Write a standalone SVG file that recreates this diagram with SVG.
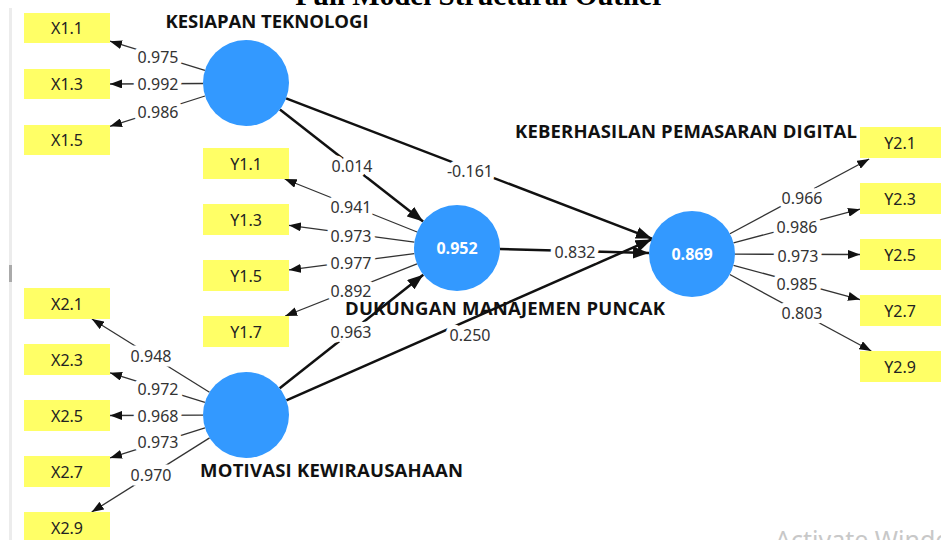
<svg xmlns="http://www.w3.org/2000/svg" width="941" height="540" viewBox="0 0 941 540">
<style>
.ind{fill:#ffff66}
.it{font-family:"Noto Sans","Open Sans",sans-serif;font-size:16px;fill:#222;text-anchor:middle;dominant-baseline:central}
.lv{fill:#3399ff}
.lvt{font-family:"Open Sans","Noto Sans",sans-serif;font-size:16px;font-weight:bold;fill:#fff;text-anchor:middle;dominant-baseline:central}
.hd{font-family:"Open Sans","Noto Sans",sans-serif;font-size:18.5px;font-weight:bold;fill:#111;text-anchor:middle}
.ol{stroke:#333;stroke-width:1.3;fill:none;marker-end:url(#ah)}
.il{stroke:#111;stroke-width:2.5;fill:none;marker-end:url(#ahb)}
.el{font-family:"Noto Sans","Open Sans",sans-serif;font-size:16px;fill:#333;text-anchor:middle;dominant-baseline:central;paint-order:stroke;stroke:#fff;stroke-width:9;stroke-linejoin:round}
</style>
<defs>
<marker id="ah" markerUnits="userSpaceOnUse" markerWidth="12" markerHeight="9" refX="12" refY="4.5" orient="auto"><path d="M0,0 L12,4.5 L0,9 z" fill="#111"/></marker>
<marker id="ahb" markerUnits="userSpaceOnUse" markerWidth="16" markerHeight="12" refX="16" refY="6" orient="auto"><path d="M0,0 L16,6 L0,12 z" fill="#111"/></marker>
</defs>
<rect width="941" height="540" fill="#fff"/>
<rect x="9" y="8" width="3" height="532" fill="#ececec"/>
<rect x="9" y="265" width="3" height="17" fill="#aaa"/>
<text x="480" y="5" font-family="'Liberation Serif',serif" font-weight="bold" font-size="29" text-anchor="middle" fill="#000">Full Model Structural Outlier</text>
<text x="775" y="549" font-family="'Noto Sans','Open Sans',sans-serif" font-size="25" fill="#c8c8c8">Activate Windows</text>

<g id="connectors">
<line class="ol" x1="204.9" y1="70.4" x2="110" y2="41.2"/>
<line class="ol" x1="203" y1="83.5" x2="110" y2="84"/>
<line class="ol" x1="205" y1="96" x2="110" y2="126.3"/>
<line class="ol" x1="209.5" y1="392.3" x2="91.9" y2="319"/>
<line class="ol" x1="204.9" y1="402.3" x2="110" y2="372.8"/>
<line class="ol" x1="203" y1="415.2" x2="110" y2="415.5"/>
<line class="ol" x1="205" y1="427.9" x2="110" y2="457.9"/>
<line class="ol" x1="209.6" y1="437.9" x2="91.7" y2="512"/>
<line class="ol" x1="417.1" y1="232" x2="284.7" y2="179"/>
<line class="ol" x1="414.4" y1="242.2" x2="289" y2="225.3"/>
<line class="ol" x1="414.4" y1="253.6" x2="289" y2="269.9"/>
<line class="ol" x1="417" y1="263.8" x2="285.2" y2="316"/>
<line class="ol" x1="729.9" y1="233.7" x2="869.2" y2="159"/>
<line class="ol" x1="733.5" y1="242.9" x2="860" y2="209.2"/>
<line class="ol" x1="735" y1="254.2" x2="860" y2="254.5"/>
<line class="ol" x1="733.5" y1="265.3" x2="860" y2="299.6"/>
<line class="ol" x1="729.8" y1="274.5" x2="871.3" y2="351"/>
<line class="il" x1="279.9" y1="109.5" x2="423.1" y2="221.5"/>
<line class="il" x1="286.1" y1="98.4" x2="651.9" y2="238.6"/>
<line class="il" x1="500" y1="249.1" x2="649" y2="252.9"/>
<line class="il" x1="279.7" y1="388.3" x2="423.3" y2="274.7"/>
<line class="il" x1="286.4" y1="400.4" x2="651.6" y2="239.4"/>
<text class="el" x="158" y="57">0.975</text>
<text class="el" x="158" y="84">0.992</text>
<text class="el" x="158" y="112">0.986</text>
<text class="el" x="151" y="356">0.948</text>
<text class="el" x="158" y="389">0.972</text>
<text class="el" x="158" y="416">0.968</text>
<text class="el" x="158" y="442">0.973</text>
<text class="el" x="151" y="475">0.970</text>
<text class="el" x="351" y="207">0.941</text>
<text class="el" x="351" y="236">0.973</text>
<text class="el" x="351" y="263">0.977</text>
<text class="el" x="351" y="291">0.892</text>
<text class="el" x="802" y="198">0.966</text>
<text class="el" x="797" y="227">0.986</text>
<text class="el" x="798" y="256">0.973</text>
<text class="el" x="797" y="284">0.985</text>
<text class="el" x="802" y="313">0.803</text>
<text class="el" x="352" y="166">0.014</text>
<text class="el" x="470" y="171">-0.161</text>
<text class="el" x="575" y="252">0.832</text>
<text class="el" x="351" y="332">0.963</text>
<text class="el" x="470" y="335">0.250</text>
</g>

<g id="KT">
<circle class="lv" cx="246" cy="83" r="43"/>
<text class="hd" x="267" y="28" textLength="203">KESIAPAN TEKNOLOGI</text>
</g>
<g id="DMP">
<circle class="lv" cx="457" cy="248" r="43"/>
<text class="lvt" x="457" y="248">0.952</text>
<text class="hd" x="505" y="315" textLength="320">DUKUNGAN MANAJEMEN PUNCAK</text>
</g>
<g id="KPD">
<circle class="lv" cx="692" cy="254" r="43"/>
<text class="lvt" x="692" y="254">0.869</text>
<text class="hd" x="686" y="138" textLength="342">KEBERHASILAN PEMASARAN DIGITAL</text>
</g>
<g id="MK">
<circle class="lv" cx="246" cy="415" r="43"/>
<text class="hd" x="331.5" y="477" textLength="263">MOTIVASI KEWIRAUSAHAAN</text>
</g>

<g id="X1.1"><rect class="ind" x="24" y="13" width="86" height="30"/><text class="it" x="67" y="28">X1.1</text></g>
<g id="X1.3"><rect class="ind" x="24" y="69" width="86" height="30"/><text class="it" x="67" y="84">X1.3</text></g>
<g id="X1.5"><rect class="ind" x="24" y="125" width="86" height="30"/><text class="it" x="67" y="140">X1.5</text></g>
<g id="X2.1"><rect class="ind" x="24" y="288" width="86" height="31"/><text class="it" x="67" y="303.5">X2.1</text></g>
<g id="X2.3"><rect class="ind" x="24" y="344" width="86" height="31"/><text class="it" x="67" y="359.5">X2.3</text></g>
<g id="X2.5"><rect class="ind" x="24" y="400" width="86" height="31"/><text class="it" x="67" y="415.5">X2.5</text></g>
<g id="X2.7"><rect class="ind" x="24" y="456" width="86" height="31"/><text class="it" x="67" y="471.5">X2.7</text></g>
<g id="X2.9"><rect class="ind" x="24" y="512" width="86" height="31"/><text class="it" x="67" y="527.5">X2.9</text></g>
<g id="Y1.1"><rect class="ind" x="203" y="148" width="86" height="31"/><text class="it" x="246" y="163.5">Y1.1</text></g>
<g id="Y1.3"><rect class="ind" x="203" y="204" width="86" height="31"/><text class="it" x="246" y="219.5">Y1.3</text></g>
<g id="Y1.5"><rect class="ind" x="203" y="260" width="86" height="31"/><text class="it" x="246" y="275.5">Y1.5</text></g>
<g id="Y1.7"><rect class="ind" x="203" y="316" width="86" height="31"/><text class="it" x="246" y="331.5">Y1.7</text></g>
<g id="Y2.1"><rect class="ind" x="860" y="127" width="81" height="31"/><text class="it" x="900" y="142.5">Y2.1</text></g>
<g id="Y2.3"><rect class="ind" x="860" y="183" width="81" height="31"/><text class="it" x="900" y="198.5">Y2.3</text></g>
<g id="Y2.5"><rect class="ind" x="860" y="239" width="81" height="31"/><text class="it" x="900" y="254.5">Y2.5</text></g>
<g id="Y2.7"><rect class="ind" x="860" y="295" width="81" height="31"/><text class="it" x="900" y="310.5">Y2.7</text></g>
<g id="Y2.9"><rect class="ind" x="860" y="351" width="81" height="31"/><text class="it" x="900" y="366.5">Y2.9</text></g>
</svg>
